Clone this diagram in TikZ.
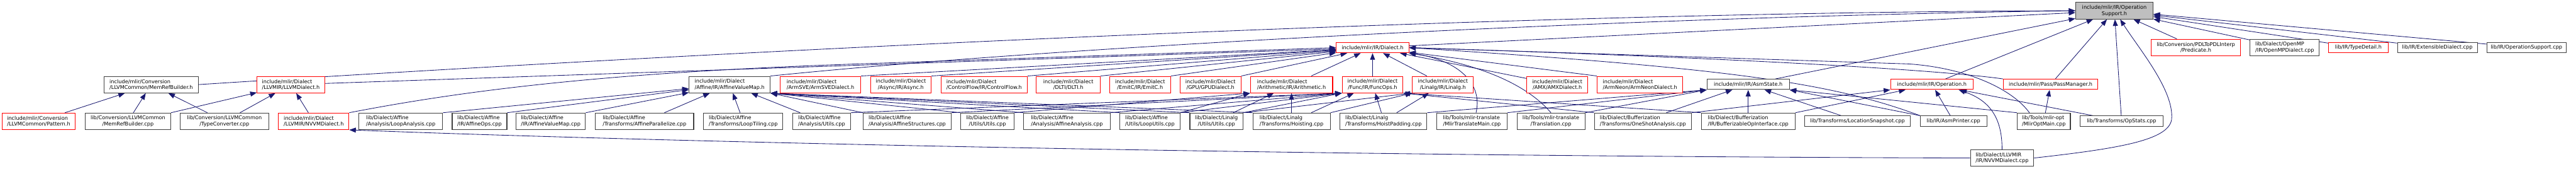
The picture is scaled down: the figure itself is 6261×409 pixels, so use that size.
\documentclass[tikz,border=0pt]{standalone}
\usepackage{fontspec}
\setmainfont{DejaVu Sans}
\usetikzlibrary{arrows.meta, backgrounds}

\definecolor{edgeblue}{RGB}{25,25,112}
\definecolor{nodegray}{RGB}{64,64,64}
\definecolor{rootgray}{RGB}{191,191,191}

\begin{document}
\begin{tikzpicture}[
    x=1pt, y=-1pt,
    font=\fontsize{12.5}{14.5}\selectfont,
    file/.style={rectangle, draw=nodegray, line width=1.6pt, fill=white,
                minimum width=#1, minimum height=40pt, inner sep=2pt,
                align=center},
    trunc/.style={file=#1, draw=red},
    one/.style={minimum height=25pt},
    lft/.style={align=left},
    arr/.style={-{Triangle[length=16pt, width=12pt]}, draw=edgeblue,
                line width=1.3pt}
  ]
  \useasboundingbox (0,0) rectangle (6261,409);

  %% ---- Root ----
  \node[file=188pt, fill=rootgray] (root) at (5139,26) {include/mlir/IR/Operation\\Support.h};

  %% ---- Row 1 ----
  \node[trunc=176pt, one] (dialecth)   at (3336,115.5) {include/mlir/IR/Dialect.h};
  \node[trunc=216pt]      (predicate)  at (5337,115)   {lib/Conversion/PDLToPDLInterp\\/Predicate.h};
  \node[file=168pt, lft]  (openmp)     at (5553,115)   {lib/Dialect/OpenMP\\/IR/OpenMPDialect.cpp};
  \node[trunc=144pt, one] (typedetail) at (5732,115.5) {lib/IR/TypeDetail.h};
  \node[file=194pt, one]  (extdialect) at (5924,115.5) {lib/IR/ExtensibleDialect.cpp};
  \node[file=193pt, one]  (opsupport)  at (6140.5,115.5) {lib/IR/OperationSupport.cpp};

  %% ---- Row 2 ----
  \node[file=229pt, lft]  (memrefh)    at (367.5,205)  {include/mlir/Conversion\\/LLVMCommon/MemRefBuilder.h};
  \node[trunc=164pt, lft] (llvmh)      at (707,205)    {include/mlir/Dialect\\/LLVMIR/LLVMDialect.h};
  \node[file=197pt, lft]  (avmh)       at (1773.5,205) {include/mlir/Dialect\\/Affine/IR/AffineValueMap.h};
  \node[trunc=196pt, lft] (armsve)     at (1994,205)   {include/mlir/Dialect\\/ArmSVE/ArmSVEDialect.h};
  \node[trunc=147pt]      (async)      at (2189.5,205) {include/mlir/Dialect\\/Async/IR/Async.h};
  \node[trunc=210pt, lft] (cf)         at (2392,205)   {include/mlir/Dialect\\/ControlFlow/IR/ControlFlow.h};
  \node[trunc=155pt]      (dlti)       at (2596.5,205) {include/mlir/Dialect\\/DLTI/DLTI.h};
  \node[trunc=148pt]      (emitc)      at (2771,205)   {include/mlir/Dialect\\/EmitC/IR/EmitC.h};
  \node[trunc=148pt]      (gpu)        at (2942,205)   {include/mlir/Dialect\\/GPU/GPUDialect.h};
  \node[trunc=200pt, lft] (arith)      at (3139,205)   {include/mlir/Dialect\\/Arithmetic/IR/Arithmetic.h};
  \node[trunc=148pt]      (func)       at (3336,205)   {include/mlir/Dialect\\/Func/IR/FuncOps.h};
  \node[trunc=148pt]      (linalg)     at (3507,205)   {include/mlir/Dialect\\/Linalg/IR/Linalg.h};
  \node[trunc=148pt]      (amx)        at (3785,205)   {include/mlir/Dialect\\/AMX/AMXDialect.h};
  \node[trunc=208pt, lft] (armneon)    at (3986,205)   {include/mlir/Dialect\\/ArmNeon/ArmNeonDialect.h};
  \node[file=200pt, one]  (asmstate)   at (4249,204.5) {include/mlir/IR/AsmState.h};
  \node[trunc=201pt, one] (operationh) at (4695.5,204.5) {include/mlir/IR/Operation.h};
  \node[trunc=230pt, one] (passmgr)    at (4984,204.5) {include/mlir/Pass/PassManager.h};

  %% ---- Row 3 ----
  \node[trunc=178pt, lft] (pattern)       at (94,294)     {include/mlir/Conversion\\/LLVMCommon/Pattern.h};
  \node[file=208pt]       (mrbcpp)        at (311,294)    {lib/Conversion/LLVMCommon\\/MemRefBuilder.cpp};
  \node[file=215pt]       (typeconv)      at (545.5,294)  {lib/Conversion/LLVMCommon\\/TypeConverter.cpp};
  \node[trunc=171pt, lft] (nvvmh)         at (762.5,294)  {include/mlir/Dialect\\/LLVMIR/NVVMDialect.h};
  \node[file=204pt, lft]  (loopanalysis)  at (974,294)    {lib/Dialect/Affine\\/Analysis/LoopAnalysis.cpp};
  \node[file=133pt, lft]  (affineops)     at (1165.5,294) {lib/Dialect/Affine\\/IR/AffineOps.cpp};
  \node[file=169pt, lft]  (avmcpp)        at (1338.5,294) {lib/Dialect/Affine\\/IR/AffineValueMap.cpp};
  \node[file=239pt, lft]  (parallelize)   at (1566.5,294) {lib/Dialect/Affine\\/Transforms/AffineParallelize.cpp};
  \node[file=193pt, lft]  (looptiling)    at (1806.5,294) {lib/Dialect/Affine\\/Transforms/LoopTiling.cpp};
  \node[file=140pt, lft]  (analysisutils) at (1997,294)   {lib/Dialect/Affine\\/Analysis/Utils.cpp};
  \node[file=214pt, lft]  (structures)    at (2205,294)   {lib/Dialect/Affine\\/Analysis/AffineStructures.cpp};
  \node[file=130pt]       (affutils)      at (2400,294)   {lib/Dialect/Affine\\/Utils/Utils.cpp};
  \node[file=210pt, lft]  (affanalysis)   at (2593,294)   {lib/Dialect/Affine\\/Analysis/AffineAnalysis.cpp};
  \node[file=146pt, lft]  (looputils)     at (2795,294)   {lib/Dialect/Affine\\/Utils/LoopUtils.cpp};
  \node[file=129pt]       (linalgutils)   at (2956.5,294) {lib/Dialect/Linalg\\/Utils/Utils.cpp};
  \node[file=188pt, lft]  (hoisting)      at (3139,294)   {lib/Dialect/Linalg\\/Transforms/Hoisting.cpp};
  \node[file=211pt, lft]  (hoistpadding)  at (3362.5,294) {lib/Dialect/Linalg\\/Transforms/HoistPadding.cpp};
  \node[file=171pt, lft]  (translatemain) at (3577.5,294) {lib/Tools/mlir-translate\\/MlirTranslateMain.cpp};
  \node[file=165pt]       (translation)   at (3769.5,294) {lib/Tools/mlir-translate\\/Translation.cpp};
  \node[file=236pt, lft]  (oneshot)       at (3993,294)   {lib/Dialect/Bufferization\\/Transforms/OneShotAnalysis.cpp};
  \node[file=228pt, lft]  (bufferizable)  at (4249,294)   {lib/Dialect/Bufferization\\/IR/BufferizableOpInterface.cpp};
  \node[file=257pt, one]  (locsnapshot)   at (4514.5,293.5) {lib/Transforms/LocationSnapshot.cpp};
  \node[file=162pt, one]  (asmprinter)    at (4748,293.5) {lib/IR/AsmPrinter.cpp};
  \node[file=129pt, lft]  (mliropt)       at (4967.5,294) {lib/Tools/mlir-opt\\/MlirOptMain.cpp};
  \node[file=201pt, one]  (opstats)       at (5156.5,293.5) {lib/Transforms/OpStats.cpp};

  %% ---- Row 4 ----
  \node[file=154pt, lft]  (nvvmcpp)       at (4866,383)   {lib/Dialect/LLVMIR\\/IR/NVVMDialect.cpp};

  \begin{scope}[on background layer]
    \fill[white] (0,0) rectangle (6261,409);

    %% ---- into OperationSupport.h ----
    \draw[arr] (memrefh.east) .. controls (1500,140) and (3500,30) .. (root.west);
    \draw[arr] (avmh.north east) .. controls (2600,110) and (4000,40) .. (root.west);
    \draw[arr] (dialecth) -- (root);
    \draw[arr] (asmstate) -- (root);
    \draw[arr] (operationh) -- (root);
    \draw[arr] (passmgr) -- (root);
    \draw[arr] (opstats) -- (root);
    \draw[arr] (nvvmcpp.east) .. controls (5150,360) and (5270,340) .. (5278,290)
               .. controls (5285,220) and (5200,120) .. ([xshift=14pt]root.south);
    \draw[arr] (predicate) -- (root);
    \draw[arr] (openmp) -- (root);
    \draw[arr] (typedetail) -- (root);
    \draw[arr] (extdialect) -- (root);
    \draw[arr] (opsupport) -- (root);

    %% ---- into Dialect.h ----
    \draw[arr] (llvmh) -- (dialecth);
    \draw[arr] (nvvmh.north east) .. controls (1150,215) and (1500,175) .. (2083,155) -- (dialecth.west);
    \draw[arr] (armsve.north east) -- (dialecth);
    \draw[arr] (async.north east) -- (dialecth);
    \draw[arr] (cf.north east) -- (dialecth);
    \draw[arr] (dlti.north east) -- (dialecth);
    \draw[arr] (emitc.north east) -- (dialecth);
    \draw[arr] (gpu.north east) -- (dialecth);
    \draw[arr] ([xshift=48pt]arith.north) -- (dialecth);
    \draw[arr] (func) -- (dialecth);
    \draw[arr] ([xshift=-39pt]linalg.north) -- (dialecth);
    \draw[arr] (amx) -- (dialecth);
    \draw[arr] (armneon.north west) -- (dialecth);
    \draw[arr] ([xshift=10pt]translatemain.north) .. controls (3605,200) and (3540,145) .. (dialecth.south east);
    \draw[arr] (translation.north) .. controls (3720,215) and (3620,160) .. (dialecth.south east);
    \draw[arr] ([xshift=-35pt]mliropt.north) .. controls (4890,215) and (4780,165) .. (4640,155) -- (dialecth.east);
    \draw[arr] (passmgr.north west) .. controls (4700,168) and (4200,140) .. (dialecth.east);
    \draw[arr] (asmprinter.north west) .. controls (4450,200) and (4200,165) .. (dialecth.east);

    %% ---- LLVMCommon / LLVMIR ----
    \draw[arr] (pattern) -- (memrefh);
    \draw[arr] (mrbcpp) -- (memrefh);
    \draw[arr] (typeconv) -- (memrefh);
    \draw[arr] (mrbcpp.north east) -- (llvmh);
    \draw[arr] (typeconv) -- (llvmh);
    \draw[arr] (nvvmh) -- (llvmh);
    \draw[arr] (nvvmcpp.west) .. controls (3000,378) and (1500,340) .. (nvvmh.south east);

    %% ---- into AffineValueMap.h ----
    \draw[arr] (loopanalysis.north east) -- (avmh);
    \draw[arr] (affineops.north east) -- (avmh);
    \draw[arr] (avmcpp.north east) -- (avmh);
    \draw[arr] (parallelize) -- (avmh);
    \draw[arr] (looptiling) -- (avmh);
    \draw[arr] (analysisutils) -- (avmh);
    \draw[arr] (structures.north west) -- (avmh.south east);
    \draw[arr] (affutils.north west) -- (avmh.south east);
    \draw[arr] (affanalysis.north west) -- (avmh.south east);
    \draw[arr] (looputils.north west) -- (avmh.south east);
    \draw[arr] (linalgutils.north west) -- (avmh.south east);
    \draw[arr] (hoisting.north west) -- (avmh.south east);

    %% ---- into Arithmetic.h, FuncOps.h, Linalg.h ----
    \draw[arr] (affutils.north east) -- (arith.south west);
    \draw[arr] (looputils.north east) -- (arith.south west);
    \draw[arr] ([xshift=41pt]linalgutils.north) -- (arith);
    \draw[arr] (hoisting) -- (arith);
    \draw[arr] (analysisutils.north east) -- (func.south west);
    \draw[arr] (structures.north east) -- (func.south west);
    \draw[arr] (affanalysis.north east) -- (func.south west);
    \draw[arr] (looputils.north east) -- (func.south west);
    \draw[arr] (linalgutils.north east) -- (func.south west);
    \draw[arr] ([xshift=48pt]hoisting.north) -- (func);
    \draw[arr] ([xshift=-5pt]hoistpadding.north) -- (func);
    \draw[arr] (oneshot.north west) -- (func.south east);
    \draw[arr] (bufferizable.north west) -- (func.south east);
    \draw[arr] (linalgutils.north east) -- (linalg.south west);
    \draw[arr] (hoisting.north east) -- (linalg.south west);
    \draw[arr] ([xshift=32pt]hoistpadding.north) -- (linalg);

    %% ---- into AsmState.h, Operation.h, PassManager.h ----
    \draw[arr] (hoistpadding.north east) -- (asmstate.south west);
    \draw[arr] (translatemain.north east) -- (asmstate.south west);
    \draw[arr] (translation.north east) -- (asmstate.south west);
    \draw[arr] ([xshift=57pt]oneshot.north) -- (asmstate);
    \draw[arr] (bufferizable) -- (asmstate);
    \draw[arr] (locsnapshot) -- (asmstate);
    \draw[arr] (asmprinter.north west) -- (asmstate.south east);
    \draw[arr] (mliropt.north west) -- (asmstate.south east);
    \draw[arr] (oneshot.north east) -- (operationh.south west);
    \draw[arr] (bufferizable.north east) -- (operationh);
    \draw[arr] (asmprinter) -- (operationh);
    \draw[arr] (nvvmcpp.north) .. controls (4866,290) and (4840,245) .. ([xshift=65pt]operationh.south);
    \draw[arr] ([xshift=-70pt]opstats.north) -- (operationh);
    \draw[arr] (mliropt) -- (passmgr);
  \end{scope}

\end{tikzpicture}
\end{document}
